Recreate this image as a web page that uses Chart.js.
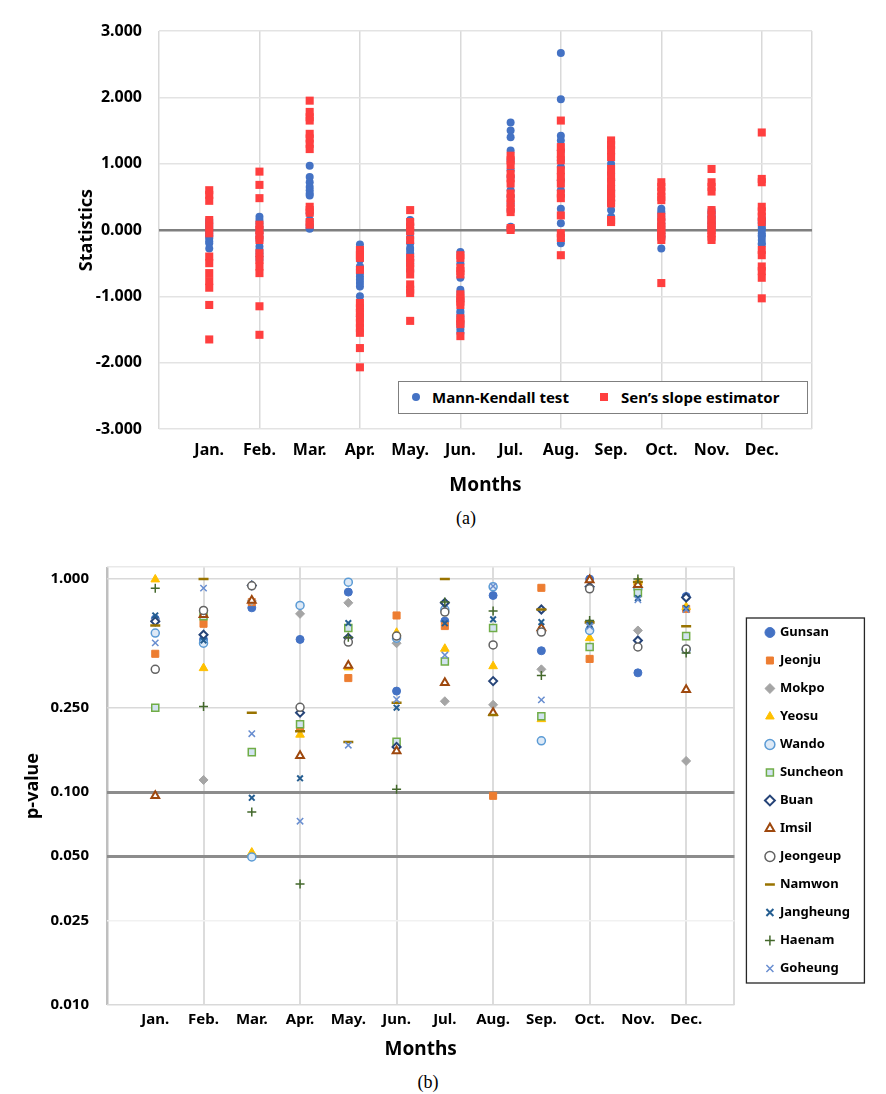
<!DOCTYPE html>
<html lang="en">
<head>
<meta charset="UTF-8">
<title>Monthly trend statistics and p-values</title>
<script src="https://cdn.jsdelivr.net/npm/chart.js@4"></script>
<style>
  body { margin: 0; background: #fff; font-family: 'Noto Sans', sans-serif; }
  .page { position: relative; width: 886px; height: 1094px; overflow: hidden; }
  .chartBox { position: absolute; left: 0; width: 886px; }
  #boxA { top: 0; height: 500px; }
  #boxB { top: 540px; height: 530px; }
  .caption { position: absolute; font-family: 'Liberation Serif', serif; font-size: 18px; transform: translate(-50%, -50%); }
  .legendA { position: absolute; left: 398px; top: 381px; width: 408px; height: 31px; border: 1.5px solid #7f7f7f; background: #fff; font-size: 15px; font-weight: bold; }
  .legendA span { position: absolute; top: 5px; }
  .legendA i { position: absolute; width: 8px; height: 8px; top: 11px; }
</style>
</head>
<body>
<div class="page">
  <div class="chartBox" id="boxA"><canvas id="chartA"></canvas></div>
  <div class="legendA">
    <i style="left:13px; border-radius:50%; background:#4472C4;"></i><span style="left:33px;">Mann-Kendall test</span>
    <i style="left:201px; background:#FF3F3F;"></i><span style="left:222px;">Sen’s slope estimator</span>
  </div>
  <div class="caption" style="left:466px; top:518px;">(a)</div>
  <div class="chartBox" id="boxB"><canvas id="chartB"></canvas></div>
  <div class="caption" style="left:428px; top:1082px;">(b)</div>
</div>
<script>
// ---- data ----
const months = ['Jan.', 'Feb.', 'Mar.', 'Apr.', 'May.', 'Jun.', 'Jul.', 'Aug.', 'Sep.', 'Oct.', 'Nov.', 'Dec.'];

// (a) one row per month, one value per station
const mannKendall = [
  [0.15, 0.12, 0.08, 0.05, 0.02, -0.02, -0.05, -0.08, -0.1, -0.13, -0.17, -0.2, -0.28],
  [0.2, 0.15, 0.1, 0.05, 0.0, -0.05, -0.1, -0.15, -0.25, -0.3, -0.35, -0.4, -0.45],
  [0.97, 0.8, 0.72, 0.65, 0.6, 0.55, 0.52, 0.25, 0.15, 0.08, 0.05, 0.03, 0.02],
  [-0.22, -0.3, -0.45, -0.55, -0.6, -0.65, -0.7, -0.75, -0.8, -0.85, -1.0, -1.2, -1.3],
  [0.15, 0.08, 0.0, -0.05, -0.12, -0.2, -0.27, -0.3, -0.35, -0.4, -0.45, -0.5, -0.6],
  [-0.33, -0.5, -0.72, -0.9, -0.95, -1.05, -1.22, -1.25, -1.3, -1.4, -1.45, -1.5, -1.55],
  [1.62, 1.5, 1.4, 1.2, 1.05, 0.9, 0.8, 0.6, 0.5, 0.4, 0.3, 0.05, 0.02],
  [2.67, 1.97, 1.42, 1.35, 1.2, 1.05, 0.95, 0.75, 0.6, 0.32, 0.1, -0.15, -0.2],
  [1.25, 1.0, 0.85, 0.75, 0.65, 0.6, 0.55, 0.5, 0.45, 0.4, 0.3, 0.2, 0.18],
  [0.32, 0.28, 0.25, 0.2, 0.15, 0.1, 0.05, 0.0, -0.05, -0.08, -0.1, -0.12, -0.28],
  [0.3, 0.28, 0.25, 0.22, 0.2, 0.18, 0.15, 0.12, 0.1, 0.08, 0.05, 0.02, 0.0],
  [0.18, 0.1, 0.05, 0.0, -0.05, -0.08, -0.1, -0.15, -0.2, -0.22, 0.15, 0.12, 0.02]
];
const sensSlope = [
  [0.6, 0.53, 0.44, 0.15, 0.05, -0.05, -0.4, -0.5, -0.65, -0.77, -0.87, -1.13, -1.65],
  [0.88, 0.68, 0.48, 0.08, 0.0, -0.08, -0.15, -0.35, -0.45, -0.55, -0.65, -1.15, -1.58],
  [1.95, 1.78, 1.7, 1.65, 1.45, 1.38, 1.3, 1.22, 0.35, 0.3, 0.26, 0.12, 0.08],
  [-0.3, -0.38, -0.42, -0.6, -1.1, -1.18, -1.25, -1.32, -1.4, -1.48, -1.55, -1.78, -2.07],
  [0.3, 0.12, 0.05, -0.02, -0.15, -0.42, -0.5, -0.58, -0.67, -0.82, -0.9, -0.95, -1.37],
  [-0.38, -0.42, -0.57, -0.62, -0.67, -0.97, -1.03, -1.08, -1.13, -1.33, -1.38, -1.42, -1.6],
  [1.12, 1.05, 0.98, 0.85, 0.78, 0.7, 0.55, 0.48, 0.4, 0.32, 0.27, 0.03, 0.0],
  [1.65, 1.25, 1.15, 1.05, 0.9, 0.8, 0.7, 0.55, 0.48, 0.22, -0.05, -0.12, -0.38],
  [1.35, 1.28, 1.2, 1.1, 0.92, 0.8, 0.72, 0.62, 0.55, 0.48, 0.4, 0.15, 0.12],
  [0.72, 0.65, 0.58, 0.5, 0.45, 0.2, 0.12, 0.05, 0.0, -0.05, -0.1, -0.15, -0.8],
  [0.92, 0.72, 0.65, 0.58, 0.3, 0.22, 0.15, 0.1, 0.05, 0.0, -0.05, -0.1, -0.15],
  [1.47, 0.77, 0.72, 0.35, 0.28, 0.2, 0.12, -0.3, -0.38, -0.55, -0.62, -0.72, -1.03]
];
const statTicks = [-3, -2, -1, 0, 1, 2, 3];

// (b) p-values, one array per station, Jan..Dec
const stationNames = ['Gunsan', 'Jeonju', 'Mokpo', 'Yeosu', 'Wando', 'Suncheon', 'Buan', 'Imsil', 'Jeongeup', 'Namwon', 'Jangheung', 'Haenam', 'Goheung'];
const gunsan    = [0.65, 0.52, 0.733, 0.521, 0.869, 0.298, 0.635, 0.838, 0.461, 1.0, 0.363, 0.829];
const jeonju    = [0.446, 0.617, 0.78, 0.2, 0.343, 0.675, 0.602, 0.096, 0.91, 0.422, 0.94, 0.725];
const mokpo     = [0.64, 0.114, 0.79, 0.687, 0.774, 0.5, 0.267, 0.257, 0.377, 0.62, 0.574, 0.14];
const yeosu     = [0.997, 0.382, 0.052, 0.186, 0.385, 0.56, 0.471, 0.39, 0.22, 0.528, 0.97, 0.74];
const wando     = [0.558, 0.5, 0.0496, 0.752, 0.968, 0.528, 0.72, 0.92, 0.174, 0.574, 0.9, 0.467];
const suncheon  = [0.249, 0.67, 0.154, 0.208, 0.59, 0.172, 0.41, 0.59, 0.227, 0.48, 0.86, 0.54];
const buan      = [0.633, 0.548, 0.934, 0.236, 0.53, 0.163, 0.774, 0.332, 0.72, 0.92, 0.515, 0.82];
const imsil     = [0.096, 0.68, 0.794, 0.148, 0.393, 0.156, 0.326, 0.236, 0.589, 0.99, 0.94, 0.302];
const jeongeup  = [0.377, 0.713, 0.93, 0.25, 0.506, 0.54, 0.7, 0.491, 0.564, 0.9, 0.48, 0.47];
const namwon    = [0.606, 1.0, 0.236, 0.193, 0.172, 0.263, 1.0, 0.23, 0.72, 0.628, 0.97, 0.6];
const jangheung = [0.675, 0.515, 0.094, 0.116, 0.622, 0.249, 0.62, 0.647, 0.628, 0.61, 0.814, 0.73];
const haenam    = [0.907, 0.252, 0.0806, 0.037, 0.534, 0.103, 0.78, 0.708, 0.353, 0.64, 1.0, 0.45];
const goheung   = [0.502, 0.907, 0.188, 0.073, 0.166, 0.272, 0.44, 0.927, 0.271, 0.6, 0.8, 0.72];
const stationValues = [gunsan, jeonju, mokpo, yeosu, wando, suncheon, buan, imsil, jeongeup, namwon, jangheung, haenam, goheung];
const pTicks = [0.01, 0.025, 0.05, 0.1, 0.25, 1.0];

// ---- styles ----
const markers = [
  { pointStyle: 'circle',   radius: 4,   bg: '#4472C4', border: '#4472C4', width: 1 },
  { pointStyle: 'rect',     radius: 5,   bg: '#ED7D31', border: '#ED7D31', width: 1 },
  { pointStyle: 'rectRot',  radius: 4.5, bg: '#A5A5A5', border: '#A5A5A5', width: 1 },
  { pointStyle: 'triangle', radius: 5,   bg: '#FFC000', border: '#FFC000', width: 1 },
  { pointStyle: 'circle',   radius: 4,   bg: '#dde9f6', border: '#5B9BD5', width: 1.5 },
  { pointStyle: 'rect',     radius: 5,   bg: '#d2e3f0', border: '#70AD47', width: 1.5 },
  { pointStyle: 'rectRot',  radius: 4,   bg: '#ffffff', border: '#264478', width: 2 },
  { pointStyle: 'triangle', radius: 4.5, bg: '#ffffff', border: '#9E480E', width: 2 },
  { pointStyle: 'circle',   radius: 4,   bg: '#ffffff', border: '#636363', width: 1.5 },
  { pointStyle: 'line',     radius: 5,   bg: '#997300', border: '#997300', width: 2.5 },
  { pointStyle: 'crossRot', radius: 4,   bg: '#255E91', border: '#255E91', width: 2 },
  { pointStyle: 'cross',    radius: 4.5, bg: '#43682B', border: '#43682B', width: 1.5 },
  { pointStyle: 'crossRot', radius: 4.5, bg: '#698ED0', border: '#698ED0', width: 1.5 }
];

function monthPoints(rows) {
  const pts = [];
  rows.forEach((vals, m) => vals.forEach(v => pts.push({ x: m + 1, y: v })));
  return pts;
}
const evenGrid = (light) => (c) => (c.tick.value % 2 === 0 || c.tick.value === 13) ? light : 'rgba(0,0,0,0)';
const tickFont = (size) => ({ family: 'Noto Sans', size: size, weight: 'bold' });

// ---- chart (a) ----
new Chart(document.getElementById('chartA'), {
  type: 'scatter',
  data: {
    datasets: [
      { label: 'Mann-Kendall test', data: monthPoints(mannKendall), order: 2,
        pointStyle: 'circle', pointRadius: 4, backgroundColor: '#4472C4', borderColor: '#4472C4', borderWidth: 0 },
      { label: 'Sen’s slope estimator', data: monthPoints(sensSlope), order: 1,
        pointStyle: 'rect', pointRadius: 5.7, backgroundColor: '#FF3F3F', borderColor: '#FF3F3F', borderWidth: 0 }
    ]
  },
  options: {
    responsive: true, maintainAspectRatio: false, animation: false, events: [],
    layout: { padding: { left: 0, right: 74, top: 31, bottom: 0 } },
    plugins: { legend: { display: false }, tooltip: { enabled: false } },
    scales: {
      x: {
        type: 'linear', min: 0, max: 13,
        afterFit: s => { s.height = 71; },
        ticks: { stepSize: 1, autoSkip: false, maxRotation: 0, padding: 12, color: '#000', font: tickFont(16),
                 callback: v => months[v - 1] || '' },
        grid: { color: evenGrid('#d9d9d9'), lineWidth: 1.5, drawTicks: false },
        border: { display: false },
        title: { display: true, text: 'Months', color: '#000', font: tickFont(19), padding: { top: 0, bottom: 3 } }
      },
      y: {
        min: -3, max: 3,
        afterFit: s => { s.width = 159; },
        afterBuildTicks: s => { s.ticks = statTicks.map(v => ({ value: v })); },
        ticks: { padding: 17, color: '#000', font: tickFont(16), callback: v => v.toFixed(3) },
        grid: { color: c => c.tick.value === 0 ? '#7f7f7f' : '#e3e3e3',
                lineWidth: c => c.tick.value === 0 ? 2.5 : 1.5, drawTicks: false },
        border: { display: false },
        title: { display: true, text: 'Statistics', color: '#000', font: tickFont(18), padding: { top: 76, bottom: 0 } }
      }
    }
  }
});

// ---- chart (b) ----
const legendFrame = {
  id: 'legendFrame',
  afterDraw(chart) {
    const lg = chart.legend;
    if (!lg || !lg.legendHitBoxes || !lg.legendHitBoxes.length) return;
    const hb = lg.legendHitBoxes;
    const first = hb[0], last = hb[hb.length - 1];
    const top = first.top - 8;
    const bottom = last.top + last.height + 8;
    const ctx = chart.ctx;
    ctx.save();
    ctx.strokeStyle = '#262626';
    ctx.lineWidth = 1.3;
    ctx.strokeRect(lg.left - 5, top, 118, bottom - top);
    ctx.restore();
  }
};

const pGridColor = (c) => {
  const v = c.tick.value;
  if (v === 0.1 || v === 0.05) return '#8c8c8c';
  if (v === 0.025) return '#f1f1f1';
  if (pTicks.includes(v)) return '#d9d9d9';
  return '#e9e9e9';
};
const pGridWidth = (c) => (c.tick.value === 0.1 || c.tick.value === 0.05) ? 3 : 1.5;

new Chart(document.getElementById('chartB'), {
  type: 'scatter',
  data: {
    datasets: stationNames.map((name, i) => ({
      label: name,
      data: stationValues[i].map((v, m) => ({ x: m + 1, y: v })),
      order: stationNames.length - i,
      pointStyle: markers[i].pointStyle,
      pointRadius: markers[i].radius,
      backgroundColor: markers[i].bg,
      borderColor: markers[i].border,
      borderWidth: markers[i].width
    }))
  },
  options: {
    responsive: true, maintainAspectRatio: false, animation: false, events: [],
    layout: { padding: { left: 0, right: 26, top: 25, bottom: 0 } },
    plugins: {
      tooltip: { enabled: false },
      legend: {
        display: true, position: 'right', align: 'start',
        title: { display: true, text: ' ', font: { size: 10 }, padding: { top: 0, bottom: 34 } },
        labels: { usePointStyle: true, boxWidth: 7, boxHeight: 7, padding: 15, color: '#000', font: tickFont(13),
                  sort: (a, b) => a.datasetIndex - b.datasetIndex }
      }
    },
    scales: {
      x: {
        type: 'linear', min: 0, max: 13,
        afterFit: s => { s.height = 65; },
        ticks: { stepSize: 1, autoSkip: false, maxRotation: 0, padding: 6, color: '#000', font: tickFont(15),
                 callback: v => months[v - 1] || '' },
        grid: { color: c => c.tick.value === 0 ? '#bfbfbf' : evenGrid('#dcdcdc')(c),
                lineWidth: c => c.tick.value === 0 ? 2.5 : 2, drawTicks: false },
        border: { display: false },
        title: { display: true, text: 'Months', color: '#000', font: tickFont(19), padding: { top: 0, bottom: 9 } }
      },
      y: {
        type: 'logarithmic', min: 0.01, max: 1.14,
        afterFit: s => { s.width = 107; },
        afterBuildTicks: s => { s.ticks = pTicks.concat([1.14]).map(v => ({ value: v })); },
        ticks: { autoSkip: false, padding: 18, color: '#000', font: tickFont(15),
                 callback: v => pTicks.includes(v) ? v.toFixed(3) : '' },
        grid: { color: pGridColor, lineWidth: pGridWidth, drawTicks: false },
        border: { display: false },
        title: { display: true, text: 'p-value', color: '#000', font: tickFont(18), padding: { top: 22, bottom: 0 } }
      },
      gap: {
        type: 'linear', position: 'right', display: true,
        afterFit: s => { s.width = 17; },
        ticks: { display: false },
        grid: { display: false, drawTicks: false },
        border: { display: false }
      }
    }
  },
  plugins: [legendFrame]
});
</script>
</body>
</html>
